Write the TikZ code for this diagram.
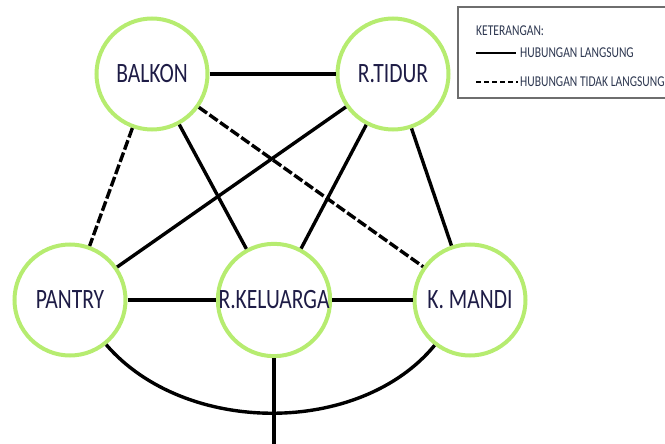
\documentclass[tikz,border=0pt]{standalone}
\usepackage{fontspec}
\setmainfont{Carlito}
\definecolor{ringgreen}{RGB}{182,236,112}
\definecolor{txtnavy}{RGB}{30,28,70}
\definecolor{legtxt}{RGB}{45,55,80}
\definecolor{boxgray}{RGB}{110,110,110}
\tikzset{
  room/.style={circle, draw=ringgreen, line width=4pt, minimum size=111pt, inner sep=0pt, font=\fontsize{28}{30}\selectfont, text=txtnavy},
  link/.style={line width=3.4pt, black},
  ilink/.style={line width=3.4pt, black, dash pattern=on 10pt off 3pt},
  legend/.style={font=\fontsize{15}{17}\selectfont, text=legtxt, inner sep=0pt, anchor=west},
}
\newcommand{\nar}[1]{\scalebox{0.77}[1]{#1}}
\begin{document}
\begin{tikzpicture}[x=1pt,y=1pt]
\useasboundingbox (0,0) rectangle (665,-444);
\node[room] (balkon) at (152,-74) {\nar{BALKON}};
\node[room] (tidur) at (393,-74) {\nar{R.TIDUR}};
\node[room] (pantry) at (70,-300) {\nar{PANTRY}};
\node[room] (keluarga) at (274,-300) {\nar{R.KELUARGA}};
\node[room] (mandi) at (470,-300) {\nar{K. MANDI}};
\coordinate (bottom) at (274,-446);

\draw[link] (balkon) -- (tidur);
\draw[ilink] (balkon) -- (pantry);
\draw[link] (balkon) -- (keluarga);
\draw[ilink] (balkon) -- (mandi);
\draw[link] (tidur) -- (pantry);
\draw[link] (tidur) -- (keluarga);
\draw[link] (tidur) -- (mandi);
\draw[link] (pantry) -- (keluarga);
\draw[link] (keluarga) -- (mandi);
\draw[link] (pantry.-51) .. controls (185,-436) and (360,-436) .. (mandi.232);
\draw[link] (keluarga.south) -- (bottom);

% legend
\draw[boxgray, line width=1.5pt] (700,-7) -- (458,-7) -- (458,-98) -- (700,-98);
\node[legend] (ket) at (476,-31) {\nar{KETERANGAN:}};
\coordinate (s1) at (476,-53);
\coordinate (s2) at (516,-53);
\coordinate (d1) at (476,-82);
\coordinate (d2) at (518,-82);
\draw[black, line width=1.2pt] (s1) -- (s2);
\draw[black, line width=1.2pt, dash pattern=on 5pt off 3pt] (d1) -- (d2);
\node[legend] (hl) at (520,-53) {\nar{HUBUNGAN LANGSUNG}};
\node[legend] (htl) at (520,-82) {\nar{HUBUNGAN TIDAK LANGSUNG}};
\end{tikzpicture}
\end{document}
